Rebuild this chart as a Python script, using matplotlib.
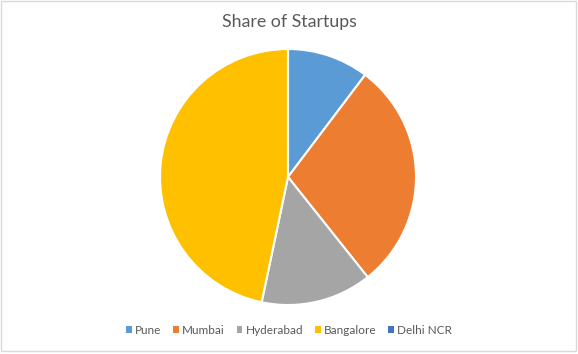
import matplotlib.pyplot as plt
from matplotlib.patches import Rectangle, Patch

cities = ["Pune", "Mumbai", "Hyderabad", "Bangalore", "Delhi NCR"]
share = [10.3, 29.0, 14.0, 46.7, 0.0]
colors = ["#5B9BD5", "#ED7D31", "#A5A5A5", "#FFC000", "#4472C4"]

plt.rcParams['font.family'] = ['Lato', 'DejaVu Sans']

fig = plt.figure(figsize=(5.78, 3.54), dpi=100)
ax = fig.add_axes([(288 - 128) / 578, (354 - 177 - 128) / 354, 256 / 578, 256 / 354])
ax.pie(share, colors=colors, startangle=90, counterclock=False, radius=1,
       wedgeprops=dict(edgecolor="white", linewidth=1.5))
ax.set_xlim(-1, 1)
ax.set_ylim(-1, 1)
ax.set_aspect("equal")
ax.axis("off")

fig.text(0.5, 1 - 22 / 354, "Share of Startups", ha="center", va="center",
         fontsize=12.8, color="#595959")

handles = [Patch(facecolor=c, edgecolor="none") for c in colors]
fig.legend(handles, cities, loc="center", bbox_to_anchor=(0.5, 1 - 330 / 354),
           ncol=5, frameon=False, fontsize=8.5, labelcolor="#595959",
           handlelength=0.5, handleheight=0.5, handletextpad=0.25, columnspacing=1.0)

# chart border
fig.patches.append(Rectangle((0.5 / 578, 1 - 350.5 / 354), 575 / 578, 350 / 354,
                             transform=fig.transFigure, fill=False,
                             edgecolor="#D9D9D9", linewidth=1))

fig.savefig("out.png", dpi=100)
